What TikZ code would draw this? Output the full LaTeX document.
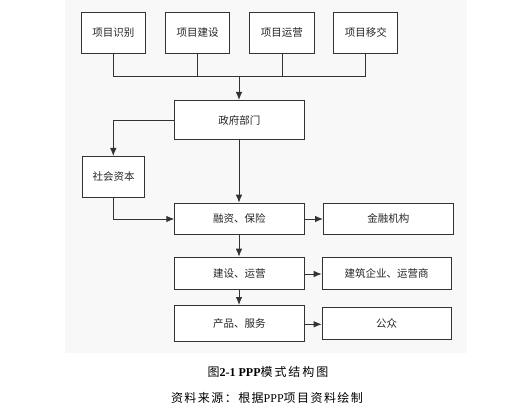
\documentclass[tikz,border=0pt]{standalone}
\usepackage{fontspec}
\setmainfont{Liberation Serif}
\newfontfamily\cjk{Noto Sans CJK SC}
\usetikzlibrary{arrows.meta}
\definecolor{bgc}{HTML}{F8F8F8}
\definecolor{linec}{HTML}{333333}
\begin{document}
\begin{tikzpicture}[x=1pt,y=-1pt,
  box/.style={draw=linec, line width=0.9pt, fill=white, inner sep=0pt, anchor=north west, font=\cjk\fontsize{10.5}{12}\selectfont, text=black!85},
  conn/.style={draw=linec, line width=0.9pt},
  arr/.style={conn, -{Latex[length=8pt,width=6.5pt]}}]
\useasboundingbox (0,0) rectangle (530,406);
\fill[bgc] (65,0) rectangle (467,353);
% top boxes
\node[box, minimum width=64.6pt, minimum height=41.6pt] (a) at (80.7,11.7) {项目识别};
\node[box, minimum width=64.3pt, minimum height=41.6pt] (b) at (165,11.7) {项目建设};
\node[box, minimum width=65pt, minimum height=41.6pt] (c) at (249,11.7) {项目运营};
\node[box, minimum width=64pt, minimum height=41.6pt] (d) at (333.3,11.7) {项目移交};
% middle
\node[box, minimum width=129.4pt, minimum height=39.3pt] (gov) at (174.3,100) {政府部门};
\node[box, minimum width=62.3pt, minimum height=40.7pt] (soc) at (82,156) {社会资本};
\node[box, minimum width=129.4pt, minimum height=31.6pt] (fin) at (174.3,202.7) {融资、保险};
\node[box, minimum width=129.7pt, minimum height=31.6pt] (bank) at (323,202.7) {金融机构};
\node[box, minimum width=129.4pt, minimum height=32.6pt] (build) at (174.3,256.7) {建设、运营};
\node[box, minimum width=129pt, minimum height=32pt] (firm) at (321.7,257.3) {建筑企业、运营商};
\node[box, minimum width=129.4pt, minimum height=35.7pt] (prod) at (174.3,305) {产品、服务};
\node[box, minimum width=129pt, minimum height=32.3pt] (pub) at (321.7,306.7) {公众};
% bus
\coordinate (bus) at (239,76.7);
\draw[conn] (a.south) |- (bus) (b.south) |- (bus) (c.south) |- (bus) (d.south) |- (bus);
\draw[arr] (bus) -- (gov.north -| bus);
\draw[arr] (gov.west |- 0,120) -| (soc.north -| 113.3,0);
\draw[arr] (gov.south -| 239,0) -- (fin.north -| 239,0);
\draw[arr] (soc.south -| 113.3,0) |- (fin.west |- 0,219);
\draw[arr] (fin.east |- 0,219) -- (bank.west |- 0,219);
\draw[arr] (fin.south -| 239,0) -- (build.north -| 239,0);
\draw[arr] (build.east |- 0,274) -- (firm.west |- 0,274);
\draw[arr] (build.south -| 239,0) -- (prod.north -| 239,0);
\draw[arr] (prod.east |- 0,324.3) -- (pub.west |- 0,324.3);
% captions
\node[font=\fontsize{12}{14}\selectfont, inner sep=0pt] (cap1) at (268,371.7) {{\cjk 图}\textbf{2-1 PPP}{\cjk\addfontfeature{LetterSpace=16} 模式结构图}};
\node[font=\fontsize{12}{14}\selectfont, inner sep=0pt] (cap2) at (267,398.3) {{\cjk\addfontfeature{LetterSpace=12}资料来源：根据}PPP{\cjk\addfontfeature{LetterSpace=12}项目资料绘制}};
\end{tikzpicture}
\end{document}
